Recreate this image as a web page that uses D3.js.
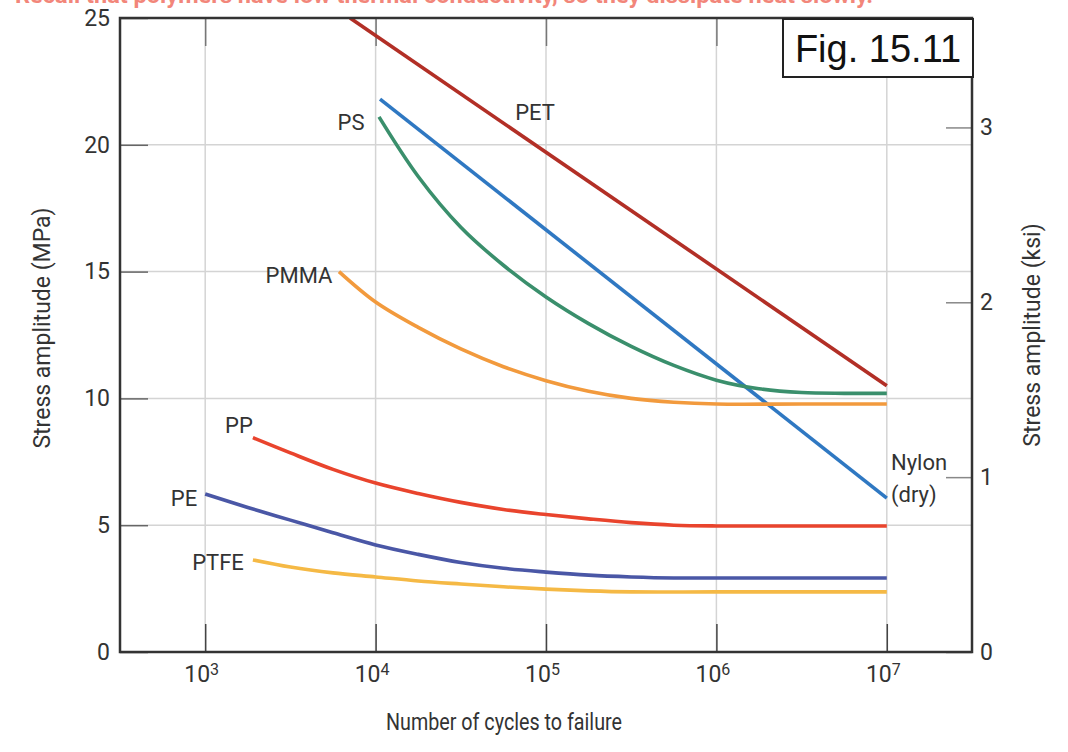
<!DOCTYPE html>
<html><head><meta charset="utf-8">
<script src="https://cdn.jsdelivr.net/npm/d3@7/dist/d3.min.js"></script>
<style>
html,body{margin:0;padding:0;background:#fff;}
svg{display:block;font-family:Roboto,"Liberation Sans",sans-serif;}
</style></head>
<body><svg id="c" width="1068" height="752"></svg>
<script>
// ---- data (log10 cycles, stress MPa) ----
const materials = ["PET","Nylon (dry)","PS","PMMA","PP","PE","PTFE"];
const colors = ["#b22f26","#2f78c2","#3a8f6c","#f29a3d","#e9442d","#4a57a6","#f5b945"];
const petData   = [[3.85,25.0],[7,10.5]];
const nylonData = [[4.026,21.8],[7,6.07]];
const psData    = [[4.02,21.1],[4.25,18.75],[4.5,16.75],[4.75,15.25],[5,14.0],[5.25,12.95],[5.5,12.05],[5.75,11.3],[6,10.72],[6.25,10.38],[6.5,10.23],[6.75,10.2],[7,10.2]];
const pmmaData  = [[3.785,15.0],[4,13.8],[4.25,12.8],[4.5,11.95],[4.75,11.25],[5,10.7],[5.25,10.28],[5.5,10.0],[5.75,9.85],[6,9.78],[6.5,9.78],[7,9.78]];
const ppData    = [[3.28,8.45],[3.5,7.85],[3.75,7.2],[4,6.66],[4.25,6.25],[4.5,5.9],[4.75,5.62],[5,5.42],[5.25,5.25],[5.5,5.1],[5.75,5.0],[6,4.97],[6.5,4.97],[7,4.97]];
const peData    = [[3,6.23],[3.25,5.7],[3.5,5.2],[3.75,4.7],[4,4.22],[4.25,3.85],[4.5,3.53],[4.75,3.3],[5,3.15],[5.25,3.03],[5.5,2.96],[5.75,2.92],[6.25,2.92],[7,2.92]];
const ptfeData  = [[3.28,3.63],[3.5,3.35],[3.75,3.12],[4,2.96],[4.25,2.8],[4.5,2.68],[4.75,2.57],[5,2.48],[5.25,2.41],[5.5,2.37],[6,2.37],[7,2.37]];
const seriesData = [petData,nylonData,psData,pmmaData,ppData,peData,ptfeData];
const xTicks = [1e3,1e4,1e5,1e6,1e7];
const xTickExp = ["3","4","5","6","7"];
const yTicks = [0,5,10,15,20,25];
const ksiTicks = [0,1,2,3];
const MPA_PER_KSI = 6.895;
const title = "Recall that polymers have low thermal conductivity, so they dissipate heat slowly.";
const figLabel = "Fig. 15.11";

const svg = d3.select("#c");
const L=120,R=972,T=18,B=652;
const x = d3.scaleLog().domain([10**2.5,10**7.5]).range([L,R]);
const y = d3.scaleLinear().domain([0,25]).range([B,T]);
const yk = d3.scaleLinear().domain([0,25/MPA_PER_KSI]).range([B,T]);

// top note (clipped by the page edge, as in the reference)
svg.append("text").attr("x",15).attr("y",3).attr("fill","#f2867a").attr("font-weight","bold")
  .attr("font-size",22).attr("textLength",858).attr("lengthAdjust","spacingAndGlyphs").text(title);

// grid
const g = svg.append("g");
g.selectAll(".vg").data(xTicks).join("line").attr("x1",d=>x(d)).attr("x2",d=>x(d))
  .attr("y1",T).attr("y2",B).attr("stroke","#d4d4d4").attr("stroke-width",1.5);
g.selectAll(".hg").data(yTicks.filter(d=>d>0&&d<25)).join("line").attr("x1",L).attr("x2",R)
  .attr("y1",d=>y(d)).attr("y2",d=>y(d)).attr("stroke","#d4d4d4").attr("stroke-width",1.5);

// axes
const ax = svg.append("g").attr("transform",`translate(${L},0)`)
  .call(d3.axisLeft(y).tickValues(yTicks).tickSize(-28).tickSizeOuter(0).tickPadding(10).tickFormat(d3.format("d")));
ax.selectAll(".tick line").attr("stroke","#666").attr("stroke-width",1.5);
ax.selectAll(".tick text").attr("font-size",23).attr("fill","#333").attr("font-family","Roboto");
ax.select(".domain").remove();

const bx = svg.append("g").attr("transform",`translate(0,${B})`)
  .call(d3.axisBottom(x).tickValues(xTicks).tickSize(-28).tickSizeOuter(0).tickPadding(14).tickFormat(()=>""));
bx.selectAll(".tick line").attr("stroke","#444").attr("stroke-width",1.5);
bx.select(".domain").remove();
bx.selectAll(".tick text").each(function(d,i){
  const t=d3.select(this).attr("font-size",23).attr("fill","#333").attr("font-family","Roboto").attr("dy","0.71em").attr("dx","-4");
  t.append("tspan").text("10");
  t.append("tspan").attr("dy","-0.45em").attr("font-size",16).text(xTickExp[i]);
});

const tx = svg.append("g").attr("transform",`translate(0,${T})`)
  .call(d3.axisTop(x).tickValues(xTicks).tickSize(-28).tickSizeOuter(0).tickFormat(()=>""));
tx.selectAll(".tick line").attr("stroke","#777").attr("stroke-width",1.5);
tx.select(".domain").remove();

const rx = svg.append("g").attr("transform",`translate(${R},0)`)
  .call(d3.axisRight(yk).tickValues(ksiTicks).tickSize(-26).tickSizeOuter(0).tickPadding(8).tickFormat(d3.format("d")));
rx.selectAll(".tick line").attr("stroke","#888").attr("stroke-width",1.5);
rx.selectAll(".tick text").attr("font-size",23).attr("fill","#333").attr("font-family","Roboto");
rx.select(".domain").remove();

// curves
svg.append("clipPath").attr("id","plot").append("rect").attr("x",L).attr("y",T).attr("width",R-L).attr("height",B-T);
const line = d3.line().x(d=>x(10**d[0])).y(d=>y(d[1])).curve(d3.curveCatmullRom.alpha(0.5));
svg.append("g").attr("clip-path","url(#plot)").selectAll("path").data(seriesData).join("path")
  .attr("d",line).attr("fill","none").attr("stroke",(d,i)=>colors[i]).attr("stroke-width",3.6).attr("stroke-linecap","butt");

// frame
svg.append("rect").attr("x",L).attr("y",T).attr("width",R-L).attr("height",B-T)
  .attr("fill","none").attr("stroke","#333").attr("stroke-width",2.5);

// series labels
const lab = [
  ["PET",535,120,"middle"],["PS",351,130,"middle"],["PMMA",299,283,"middle"],
  ["PP",239,433,"middle"],["PE",184,506,"middle"],["PTFE",218,570,"middle"],
  ["Nylon",891,470,"start"],["(dry)",891,502,"start"]];
svg.append("g").selectAll("text").data(lab).join("text")
  .attr("x",d=>d[1]).attr("y",d=>d[2]).attr("text-anchor",d=>d[3])
  .attr("font-size",22).attr("fill","#333").text(d=>d[0]);

// axis titles
svg.append("text").attr("x",504).attr("y",730).attr("text-anchor","middle").attr("font-size",23)
  .attr("textLength",236).attr("lengthAdjust","spacingAndGlyphs").attr("fill","#333").text("Number of cycles to failure");
svg.append("text").attr("transform","translate(50,328) rotate(-90)").attr("text-anchor","middle").attr("font-size",23).attr("fill","#333").text("Stress amplitude (MPa)");
svg.append("text").attr("transform","translate(1040,335) rotate(-90)").attr("text-anchor","middle").attr("font-size",23).attr("fill","#333").text("Stress amplitude (ksi)");

// figure label box
svg.append("rect").attr("x",783).attr("y",19).attr("width",190).attr("height",58).attr("fill","#fff").attr("stroke","#222").attr("stroke-width",2);
svg.append("text").attr("x",878).attr("y",62).attr("text-anchor","middle").attr("font-size",38)
  .attr("font-family","'Liberation Sans',Arial,sans-serif").attr("fill","#111").text(figLabel);
</script></body></html>
